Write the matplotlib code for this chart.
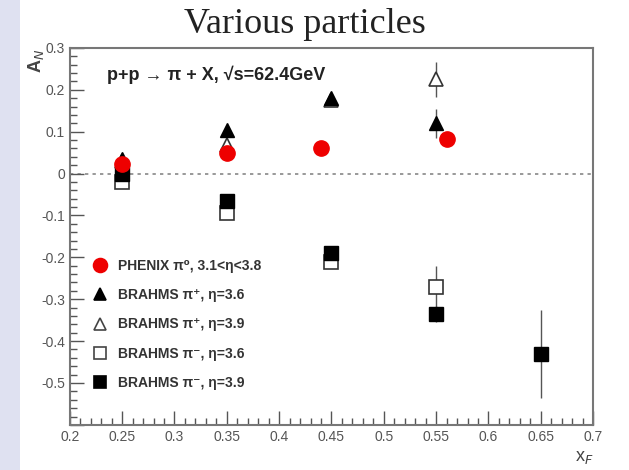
import numpy as np
import matplotlib
matplotlib.use('Agg')
import matplotlib.pyplot as plt
from matplotlib.ticker import MultipleLocator
from matplotlib.patches import Rectangle

plt.rcParams['font.family'] = ['Liberation Sans', 'DejaVu Sans']

# A_N vs x_F, p+p at sqrt(s)=62.4 GeV
phenix_x = [0.25, 0.35, 0.44, 0.56]
phenix_y = [0.022, 0.05, 0.062, 0.083]

pip36_x = [0.25, 0.35, 0.45, 0.55]
pip36_y = [0.035, 0.105, 0.18, 0.12]
pip36_err = [0.0, 0.0, 0.0, 0.035]

pip39_x = [0.25, 0.35, 0.45, 0.55]
pip39_y = [0.03, 0.068, 0.175, 0.225]
pip39_err = [0.0, 0.0, 0.0, 0.042]

pim36_x = [0.25, 0.35, 0.45, 0.55]
pim36_y = [-0.02, -0.095, -0.21, -0.27]
pim36_err = [0.0, 0.0, 0.0, 0.05]

pim39_x = [0.25, 0.35, 0.45, 0.55, 0.65]
pim39_y = [0.0, -0.065, -0.19, -0.335, -0.43]
pim39_err = [0.0, 0.0, 0.0, 0.02, 0.105]

fig = plt.figure(figsize=(6.29, 4.7), dpi=100)
fig.patch.set_facecolor('white')
# pale strip down the left edge
fig.patches.append(Rectangle((0, 0), 0.032, 1, transform=fig.transFigure,
                             facecolor='#dfe1f1', edgecolor='none', zorder=0))
ax = fig.add_axes([0.111, 0.096, 0.832, 0.802])

ax.axhline(0, color='#888888', linestyle=(0, (2, 2.5)), linewidth=1.2, zorder=1)

ax.errorbar(pim39_x, pim39_y, yerr=pim39_err, fmt='none', ecolor='#555555', elinewidth=1, zorder=2)
ax.errorbar(pim36_x, pim36_y, yerr=pim36_err, fmt='none', ecolor='#555555', elinewidth=1, zorder=2)
ax.errorbar(pip39_x, pip39_y, yerr=pip39_err, fmt='none', ecolor='#555555', elinewidth=1, zorder=2)
ax.errorbar(pip36_x, pip36_y, yerr=pip36_err, fmt='none', ecolor='#555555', elinewidth=1, zorder=2)

ax.plot(pim36_x, pim36_y, 's', ms=10.5, mfc='white', mec='#333333', mew=1.2, zorder=3)
ax.plot(pim39_x, pim39_y, 's', ms=10.5, mfc='black', mec='black', zorder=4)
ax.plot(pip39_x, pip39_y, '^', ms=10.5, mfc='white', mec='#333333', mew=1.2, zorder=3)
ax.plot(pip36_x, pip36_y, '^', ms=10.5, mfc='black', mec='black', zorder=4)
ax.plot(phenix_x, phenix_y, 'o', ms=11, mfc='#ee0000', mec='#ee0000', zorder=5)

ax.set_xlim(0.2, 0.7)
ax.set_ylim(-0.6, 0.3)
ax.xaxis.set_major_locator(MultipleLocator(0.05))
ax.xaxis.set_minor_locator(MultipleLocator(0.01))
ax.yaxis.set_major_locator(MultipleLocator(0.1))
ax.yaxis.set_minor_locator(MultipleLocator(0.02))
ax.xaxis.set_major_formatter(plt.FuncFormatter(lambda v, p: f'{v:g}'))
ax.yaxis.set_major_formatter(plt.FuncFormatter(lambda v, p: '' if v < -0.55 else f'{v:g}'))
ax.tick_params(which='major', direction='in', length=10, width=1, color='#555555',
               labelsize=10, labelcolor='#555555', top=False, right=False)
ax.tick_params(which='minor', direction='in', length=5, width=1, color='#555555')
for s in ax.spines.values():
    s.set_color('#777777')
    s.set_linewidth(1.5)

ax.set_xlabel('x$_F$', fontsize=13, color='#444444', loc='right')
ax.set_ylabel('A$_N$', fontsize=13, color='#444444', fontweight='bold')
ax.yaxis.set_label_coords(-0.045, 0.965)

ax.text(0.072, 0.93, 'p+p \u2192 \u03c0 + X, \u221as=62.4GeV', transform=ax.transAxes,
        fontsize=13, fontweight='bold', color='#222222', va='center')

fig.text(0.485, 0.947, 'Various particles', fontsize=26, family='Liberation Serif',
         ha='center', va='center', color='#222222')

# legend drawn as marker + label rows
legend_rows = [
    ('o', '#ee0000', '#ee0000', 'PHENIX \u03c0\u2070, 3.1<\u03b7<3.8'),
    ('^', 'black', 'black', 'BRAHMS \u03c0\u207a, \u03b7=3.6'),
    ('^', 'white', '#444444', 'BRAHMS \u03c0\u207a, \u03b7=3.9'),
    ('s', 'white', '#444444', 'BRAHMS \u03c0\u207b, \u03b7=3.6'),
    ('s', 'black', 'black', 'BRAHMS \u03c0\u207b, \u03b7=3.9'),
]
handles = []
for m, fc, ec, lab in legend_rows:
    h, = ax.plot([], [], m, ms=9 if m != 'o' else 10, mfc=fc, mec=ec, mew=1.2, label=lab)
    handles.append(h)
leg = ax.legend(handles=handles, loc='upper left', bbox_to_anchor=(0.02, 0.455), frameon=False,
                fontsize=10, handletextpad=0.3, labelspacing=1.1, borderaxespad=0)
for t in leg.get_texts():
    t.set_fontweight('bold')
    t.set_color('#333333')

fig.savefig('out.png', dpi=100)
